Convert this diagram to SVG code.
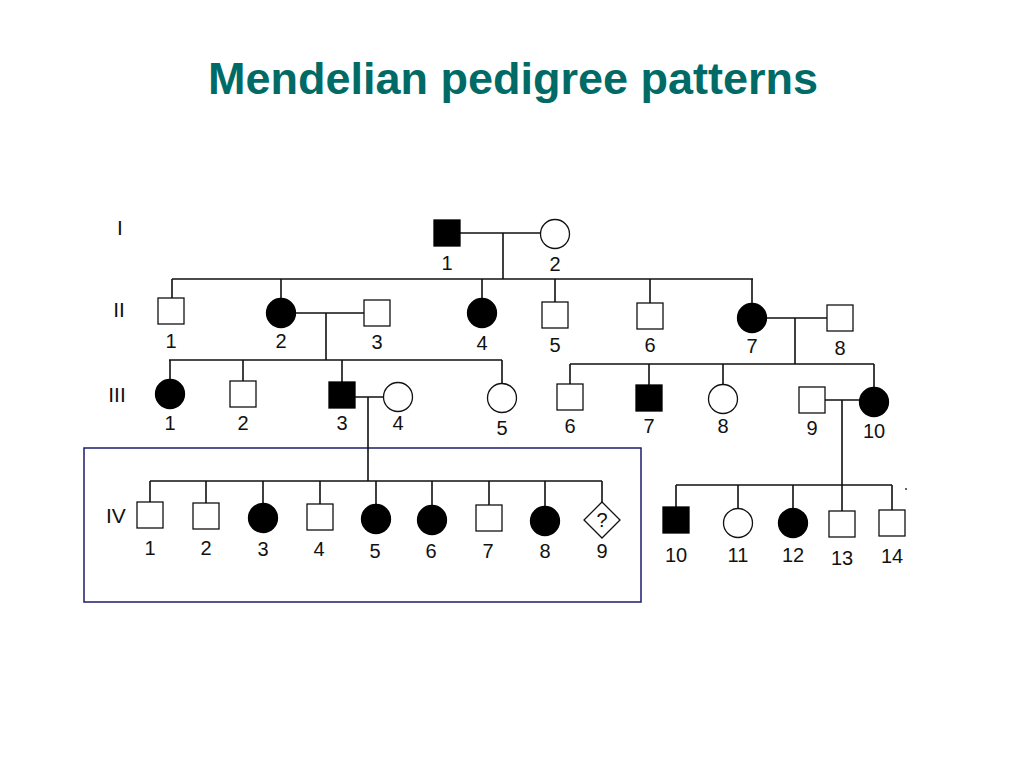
<svg xmlns="http://www.w3.org/2000/svg" width="1024" height="768" viewBox="0 0 1024 768">
<style>
.u{fill:#fff;stroke:#111;stroke-width:1.3}
.a{fill:#000;stroke:#000;stroke-width:1.3}
.n{font-family:"Liberation Sans",Arial,sans-serif;font-size:20px;fill:#111;text-anchor:middle}
.g{font-family:"Liberation Sans",Arial,sans-serif;font-size:21px;fill:#111}
.c{fill:none;stroke:#111;stroke-width:1.6}
.title{font-family:"Liberation Sans",Arial,sans-serif;font-size:45px;font-weight:bold;fill:#006b66;text-anchor:middle}
</style>
<rect width="1024" height="768" fill="#fff"/>
<text class="title" x="513" y="94">Mendelian pedigree patterns</text>
<rect x="84" y="448" width="557" height="154" fill="none" stroke="#1c1c6e" stroke-width="1.5"/>
<g id="gen-labels">
<text class="g" x="120" y="235" text-anchor="middle">I</text>
<text class="g" x="119" y="317" text-anchor="middle">II</text>
<text class="g" x="117" y="402" text-anchor="middle">III</text>
<text class="g" x="106" y="523" font-size="22">IV</text>
</g>
<g id="connectors">
<path class="c" d="M460 233H541M503 233V279M172 279H753M172 279V298M281 279V298.5M482 279V298.5M555 279V302M650 279V303M752 279V303.5"/>
<path class="c" d="M295.5 313H364M326 313V360M169 360H502M170 360V379.5M243 360V381M342 360V382M502 360V383.5"/>
<path class="c" d="M766.5 318H827M795 318V364M570 364H874M570 364V384M649 364V385M723 364V384.5M874 364V387.5"/>
<path class="c" d="M355 397H383.5M368 397V481M150 481H602M150 481V502M206 481V503M263 481V503.5M320 481V504M376 481V504.5M432 481V505.5M489 481V505M545 481V506.5M602 481V502"/>
<path class="c" d="M825 400H859.5M842 400V485M676 485H892M676 485V507M738 485V508.5M793 485V508.5M842 485V511M892 485V510"/>
</g>
<g id="I-1"><rect class="a" x="434" y="220" width="26" height="26"/><text class="n" x="447" y="270">1</text></g>
<g id="I-2"><circle class="u" cx="555" cy="234" r="14.5"/><text class="n" x="555" y="271">2</text></g>
<g id="II-1"><rect class="u" x="158" y="298" width="26" height="26"/><text class="n" x="171" y="348">1</text></g>
<g id="II-2"><circle class="a" cx="281" cy="313" r="14.5"/><text class="n" x="281" y="348">2</text></g>
<g id="II-3"><rect class="u" x="364" y="300" width="26" height="26"/><text class="n" x="377" y="349">3</text></g>
<g id="II-4"><circle class="a" cx="482" cy="313" r="14.5"/><text class="n" x="482" y="350">4</text></g>
<g id="II-5"><rect class="u" x="542" y="302" width="26" height="26"/><text class="n" x="555" y="352">5</text></g>
<g id="II-6"><rect class="u" x="637" y="303" width="26" height="26"/><text class="n" x="650" y="352">6</text></g>
<g id="II-7"><circle class="a" cx="752" cy="318" r="14.5"/><text class="n" x="752" y="353">7</text></g>
<g id="II-8"><rect class="u" x="827" y="305" width="26" height="26"/><text class="n" x="840" y="355">8</text></g>
<g id="III-1"><circle class="a" cx="170" cy="394" r="14.5"/><text class="n" x="170" y="430">1</text></g>
<g id="III-2"><rect class="u" x="230" y="381" width="26" height="26"/><text class="n" x="243" y="430">2</text></g>
<g id="III-3"><rect class="a" x="329" y="382" width="26" height="26"/><text class="n" x="342" y="430">3</text></g>
<g id="III-4"><circle class="u" cx="398" cy="397" r="14.5"/><text class="n" x="398" y="430">4</text></g>
<g id="III-5"><circle class="u" cx="502" cy="398" r="14.5"/><text class="n" x="502" y="435">5</text></g>
<g id="III-6"><rect class="u" x="557" y="384" width="26" height="26"/><text class="n" x="570" y="433">6</text></g>
<g id="III-7"><rect class="a" x="636" y="385" width="26" height="26"/><text class="n" x="649" y="433">7</text></g>
<g id="III-8"><circle class="u" cx="723" cy="399" r="14.5"/><text class="n" x="723" y="433">8</text></g>
<g id="III-9"><rect class="u" x="799" y="387" width="26" height="26"/><text class="n" x="812" y="435">9</text></g>
<g id="III-10"><circle class="a" cx="874" cy="402" r="14.5"/><text class="n" x="874" y="438">10</text></g>
<g id="IV-1"><rect class="u" x="137" y="502" width="26" height="26"/><text class="n" x="150" y="555">1</text></g>
<g id="IV-2"><rect class="u" x="193" y="503" width="26" height="26"/><text class="n" x="206" y="555">2</text></g>
<g id="IV-3"><circle class="a" cx="263" cy="518" r="14.5"/><text class="n" x="263" y="556">3</text></g>
<g id="IV-4"><rect class="u" x="307" y="504" width="26" height="26"/><text class="n" x="319" y="556">4</text></g>
<g id="IV-5"><circle class="a" cx="376" cy="519" r="14.5"/><text class="n" x="375" y="558">5</text></g>
<g id="IV-6"><circle class="a" cx="432" cy="520" r="14.5"/><text class="n" x="431" y="558">6</text></g>
<g id="IV-7"><rect class="u" x="476" y="505" width="26" height="26"/><text class="n" x="488" y="558">7</text></g>
<g id="IV-8"><circle class="a" cx="545" cy="521" r="14.5"/><text class="n" x="545" y="558">8</text></g>
<g id="IV-9"><polygon class="u" points="602,502 620,520 602,538 584,520"/><text class="n" x="602" y="527" font-size="19">?</text><text class="n" x="602" y="558">9</text></g>
<g id="IV-10"><rect class="a" x="663" y="507" width="26" height="26"/><text class="n" x="676" y="562">10</text></g>
<g id="IV-11"><circle class="u" cx="738" cy="523" r="14.5"/><text class="n" x="738" y="562">11</text></g>
<g id="IV-12"><circle class="a" cx="793" cy="523" r="14.5"/><text class="n" x="793" y="562">12</text></g>
<g id="IV-13"><rect class="u" x="829" y="511" width="26" height="26"/><text class="n" x="842" y="565">13</text></g>
<g id="IV-14"><rect class="u" x="879" y="510" width="26" height="26"/><text class="n" x="892" y="563">14</text></g>
<circle cx="906" cy="489" r="1" fill="#333"/>
</svg>
